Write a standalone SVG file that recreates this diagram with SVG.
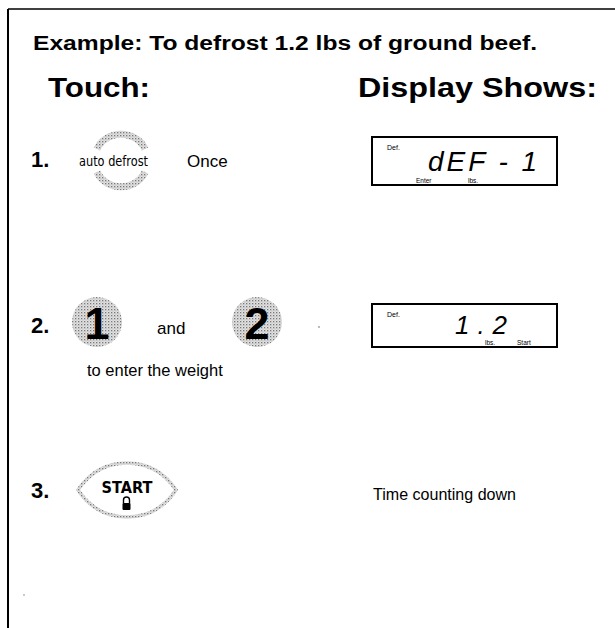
<svg xmlns="http://www.w3.org/2000/svg" width="615" height="628" viewBox="0 0 615 628">
<defs>
<pattern id="dots" width="3" height="3" patternUnits="userSpaceOnUse">
<rect width="3" height="3" fill="#e2e2e2"/>
<rect x="0" y="0" width="1.3" height="1.3" fill="#777"/>
<rect x="1.5" y="1.5" width="1" height="1" fill="#aaa"/>
</pattern>
<style>
.hd{font-family:"Liberation Sans",Arial,sans-serif;font-weight:bold;fill:#000}
.tx{font-family:"Liberation Sans",Arial,sans-serif;fill:#000}
.vd{font-family:"DejaVu Sans",Verdana,sans-serif;fill:#000}
.vc{font-family:"DejaVu Sans Condensed","DejaVu Sans",Verdana,sans-serif;fill:#000}
.lcd{font-family:"Liberation Sans",Arial,sans-serif;font-style:italic;fill:#000}
.box{fill:#fff;stroke:#000;stroke-width:2}
.ring{fill:none;stroke:url(#dots);stroke-width:7}
</style>
</defs>
<rect width="615" height="628" fill="#fff"/>
<g id="frame">
<line x1="8" y1="9" x2="615" y2="9" stroke="#000" stroke-width="1.5"/>
<line x1="8" y1="9" x2="8" y2="628" stroke="#000" stroke-width="2"/>
</g>
<g id="headings">
<text class="hd" x="33" y="50" font-size="20" textLength="504" lengthAdjust="spacingAndGlyphs">Example: To defrost 1.2 lbs of ground beef.</text>
<text class="hd" x="48" y="97" font-size="27" textLength="102" lengthAdjust="spacingAndGlyphs">Touch:</text>
<text class="hd" x="358" y="97" font-size="27" textLength="239" lengthAdjust="spacingAndGlyphs">Display Shows:</text>
</g>
<g id="step1">
<text class="hd" x="31" y="167" font-size="22">1.</text>
<path class="ring" d="M97,149 A26,24 0 0 1 145,149"/>
<path class="ring" d="M97,172 A26,24 0 0 0 145,172"/>
<text class="vc" x="79" y="166" font-size="14" textLength="69" lengthAdjust="spacingAndGlyphs">auto defrost</text>
<text class="tx" x="187" y="167" font-size="17">Once</text>
</g>
<g id="display1">
<rect class="box" x="372" y="137" width="185" height="48"/>
<text class="tx" x="387" y="150" font-size="7">Def.</text>
<text class="lcd" x="428" y="171" font-size="28" letter-spacing="3" textLength="112">dEF - 1</text>
<text class="tx" x="416" y="183" font-size="6.5">Enter</text>
<text class="tx" x="468" y="183" font-size="6.5">lbs.</text>
</g>
<g id="step2">
<text class="hd" x="31" y="333" font-size="22">2.</text>
<circle cx="97" cy="322" r="25" fill="url(#dots)"/>
<text class="hd" x="97" y="339" font-size="45" text-anchor="middle">1</text>
<text class="tx" x="157" y="334" font-size="17">and</text>
<circle cx="257" cy="322" r="25" fill="url(#dots)"/>
<text class="hd" x="257" y="339" font-size="45" text-anchor="middle">2</text>
<circle cx="319" cy="327" r="0.8" fill="#666"/>
<text class="tx" x="87" y="376" font-size="16.5">to enter the weight</text>
</g>
<g id="display2">
<rect class="box" x="372" y="304" width="185" height="43"/>
<text class="tx" x="387" y="317" font-size="7">Def.</text>
<text class="lcd" x="455" y="334" font-size="26" letter-spacing="3" textLength="55">1.2</text>
<text class="tx" x="485" y="344.5" font-size="6.5">lbs.</text>
<text class="tx" x="517" y="344.5" font-size="6.5">Start</text>
</g>
<g id="step3">
<text class="hd" x="31" y="498" font-size="22">3.</text>
<path d="M78,490 C86,478 100,463 127,463 C154,463 168,478 176,490 C168,502 154,517 127,517 C100,517 86,502 78,490 Z" fill="#fff" stroke="url(#dots)" stroke-width="3.5"/>
<text class="vd" x="127" y="493" font-size="15" font-weight="bold" text-anchor="middle" textLength="51" lengthAdjust="spacingAndGlyphs">START</text>
<path d="M123.5,503 v-3 a3,3 0 0 1 6,0 v3" fill="none" stroke="#000" stroke-width="1.4"/>
<rect x="122.5" y="503" width="8" height="7" rx="1" fill="#000"/>
<text class="tx" x="373" y="500" font-size="16.5" textLength="143" lengthAdjust="spacingAndGlyphs">Time counting down</text>
<circle cx="24" cy="595" r="0.8" fill="#888"/>
</g>
</svg>
